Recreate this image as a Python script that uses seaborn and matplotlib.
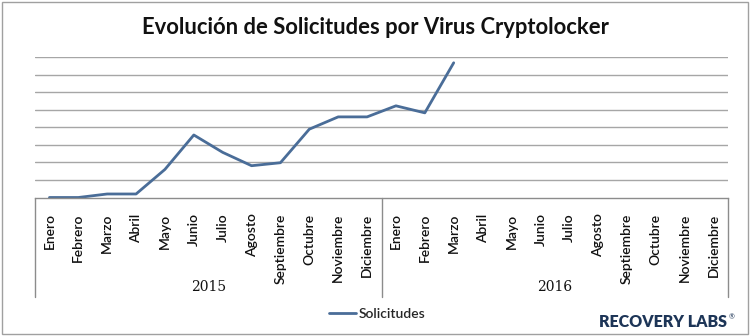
import matplotlib
matplotlib.use("Agg")
import matplotlib.pyplot as plt
import seaborn as sns
import pandas as pd
import numpy as np
from matplotlib.patches import Rectangle

# ---- data ----
months = ["Enero", "Febrero", "Marzo", "Abril", "Mayo", "Junio", "Julio",
          "Agosto", "Septiembre", "Octubre", "Noviembre", "Diciembre"]
years = ["2015", "2016"]
values_2015 = [0.0, 0.0, 0.2, 0.2, 1.6, 3.56, 2.57, 1.81, 1.98, 3.89, 4.59, 4.59]
values_2016 = [5.22, 4.82, 7.67]
series_name = "Solicitudes"
title = "Evolución de Solicitudes por Virus Cryptolocker"

periods = [f"{m} {y}" for y in years for m in months]
vals = values_2015 + values_2016
df = pd.DataFrame({"periodo": periods[:len(vals)], "valor": vals})

sns.set_theme(style="white")
plt.rcParams["font.family"] = ["Lato", "DejaVu Sans"]

fig = plt.figure(figsize=(7.5, 3.36), dpi=100)
W, H = 750, 336
ax_left, ax_right, ax_top, ax_bot = 35, 728, 57, 197.5
ax = fig.add_axes([ax_left / W, 1 - ax_bot / H, (ax_right - ax_left) / W, (ax_bot - ax_top) / H])

line_color = "#4a6d98"
sns.lineplot(data=df, x="periodo", y="valor", ax=ax, color=line_color,
             linewidth=2.0, label=series_name, sort=False)

ax.set_xlim(-0.5, len(periods) - 0.5)
ax.set_ylim(0, 8)
ax.set_yticks(np.arange(1, 9))
ax.yaxis.grid(True, color="#a6a6a6", linewidth=1.0)
ax.xaxis.grid(False)
ax.tick_params(axis="y", left=False, labelleft=False)
ax.set_xticks(range(len(periods)))
ax.set_xticklabels([m for y in years for m in months], rotation=90,
                   fontsize=10, color="#111111", fontweight="semibold")
ax.tick_params(axis="x", bottom=False, pad=5.5)
ax.set_xlabel("")
ax.set_ylabel("")
for s in ["top", "right", "left"]:
    ax.spines[s].set_visible(False)
ax.spines["bottom"].set_color("#8c8c8c")
ax.spines["bottom"].set_linewidth(1.0)

# category axis frame (group separators)
trans = ax.get_xaxis_transform()
depth = -(297 - ax_bot) / (ax_bot - ax_top)
for xs in [-0.5, 11.5, 23.5]:
    ax.plot([xs, xs], [0, depth], transform=trans, color="#8c8c8c",
            linewidth=1.0, clip_on=False)
ycenter = -(287 - ax_bot) / (ax_bot - ax_top)
for i, y in enumerate(years):
    ax.text(i * 12 + 5.5, ycenter, y, transform=trans, ha="center", va="center",
            fontsize=10, family=["DejaVu Serif"], color="#111111")

# legend
leg = ax.legend(loc="center", bbox_to_anchor=(377 / W, 1 - 314 / H),
                bbox_transform=fig.transFigure, frameon=False,
                prop={"size": 10, "weight": "semibold"},
                handlelength=2.0, handletextpad=0.15)

# title
fig.text(0.5, 1 - 28 / H, title, ha="center", va="center", fontsize=15.8,
         fontweight="bold", color="#111111")

# brand
fig.text(727 / W, 1 - 322 / H, "RECOVERY LABS", ha="right", va="center",
         fontsize=11.5, fontweight="heavy", color="#1d3557")
fig.text(729 / W, 1 - 317 / H, "®", ha="left", va="center", fontsize=5,
         color="#1d3557")

# outer border
fig.patches.append(Rectangle((2 / W, 2 / H), 746 / W, 332 / H, transform=fig.transFigure,
                             fill=False, edgecolor="#a0a0a0", linewidth=1.0))

fig.savefig("out.png", dpi=100, facecolor="white")
